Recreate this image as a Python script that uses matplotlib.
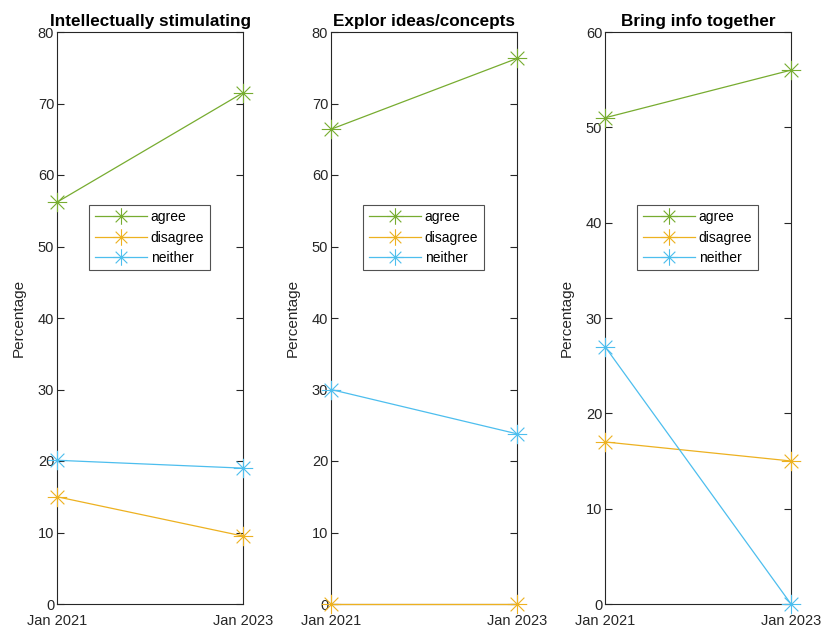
import matplotlib
matplotlib.use("Agg")
import matplotlib.pyplot as plt
from matplotlib.path import Path
import numpy as np

plt.rcParams['font.family'] = ['Liberation Sans', 'DejaVu Sans']

dates = ["Jan 2021", "Jan 2023"]
titles = ["Intellectually stimulating", "Explor ideas/concepts", "Bring info together"]
series_names = ["agree", "disagree", "neither"]
agree = [[56.2, 71.5], [66.4, 76.3], [51.0, 56.0]]
disagree = [[15.0, 9.5], [0.0, 0.0], [17.0, 15.0]]
neither = [[20.1, 19.0], [30.0, 23.8], [27.0, 0.0]]
ylims = [80, 80, 60]

colors = ["#77AC30", "#EDB120", "#4DBEEE"]

d = 0.7071
verts = [(-1, 0), (1, 0), (0, -1), (0, 1), (-d, -d), (d, d), (-d, d), (d, -d)]
codes = [Path.MOVETO, Path.LINETO] * 4
ast = Path(verts, codes)

fig = plt.figure(figsize=(8.26, 6.30), dpi=100)
lefts = [57 / 826, 331 / 826, 605 / 826]
axc = '#262626'
x = np.arange(len(dates))
for i in range(3):
    ax = fig.add_axes([lefts[i], 26 / 630, 186 / 826, 572 / 630])
    for name, data, c in zip(series_names, [agree, disagree, neither], colors):
        ax.plot(x, data[i], color=c, lw=0.9, marker=ast, markersize=14,
                markeredgewidth=0.8, markerfacecolor='none', markeredgecolor=c,
                clip_on=False, label=name, zorder=3)
    ax.set_xlim(0, 1)
    ax.set_ylim(0, ylims[i])
    ax.set_xticks(x)
    ax.set_xticklabels(dates)
    ax.set_yticks(np.arange(0, ylims[i] + 1, 10))
    ax.tick_params(direction='in', right=True, top=False, length=5, width=0.8,
                   labelsize=10.5, colors=axc, pad=2)
    ax.tick_params(axis='x', length=0, pad=7.5)
    for s in ax.spines.values():
        s.set_color(axc)
        s.set_linewidth(0.8)
    ax.set_ylabel("Percentage", fontsize=11, color=axc, labelpad=9)
    ax.set_title(titles[i], fontsize=12.3, fontweight='bold', color='black', pad=4)
    leg = ax.legend(loc='upper left', bbox_to_anchor=(0.172, 0.698), borderaxespad=0,
                    fontsize=10, frameon=True, fancybox=False, edgecolor='#262626',
                    handlelength=3.75, handletextpad=0.3, labelspacing=0.45,
                    borderpad=0.4, markerscale=0.85)
    leg.get_frame().set_linewidth(0.8)

fig.savefig("out.png", dpi=100)
